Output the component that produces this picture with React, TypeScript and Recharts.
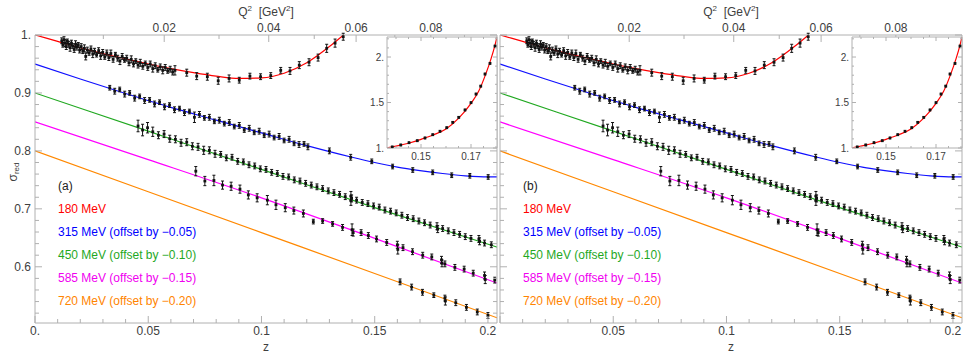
import React from 'react';
import { ComposedChart, Line, Scatter, ErrorBar, XAxis, YAxis } from 'recharts';

// ---------------- axis ticks & labels ----------------
const zTicks = [0, 0.01, 0.02, 0.03, 0.04, 0.05, 0.06, 0.07, 0.08, 0.09, 0.1, 0.11, 0.12, 0.13, 0.14, 0.15, 0.16, 0.17, 0.18, 0.19, 0.2];
const zMajor = [0, 0.05, 0.1, 0.15, 0.2];
const zLabels = ['0.', '0.05', '0.1', '0.15', '0.2'];
const zLabelsB = [null, '0.05', '0.1', '0.15', '0.2'];
const yTicks = [0.52, 0.54, 0.56, 0.58, 0.6, 0.62, 0.64, 0.66, 0.68, 0.7, 0.72, 0.74, 0.76, 0.78, 0.8, 0.82, 0.84, 0.86, 0.88, 0.9, 0.92, 0.94, 0.96, 0.98, 1.0];
const yMajor = [0.6, 0.7, 0.8, 0.9, 1.0];
const yLabels = ['0.6', '0.7', '0.8', '0.9', '1.'];
const q2Major = [0.02, 0.04, 0.06, 0.08];
const q2Labels = ['0.02', '0.04', '0.06', '0.08'];
const q2Minor = [0.01, 0.03, 0.05, 0.07, 0.09];
const insetXTicks = [0.14, 0.145, 0.15, 0.155, 0.16, 0.165, 0.17, 0.175, 0.18];
const insetXMajor = [0.15, 0.17];
const insetXLabels = ['0.15', '0.17'];
const insetYTicks = [1.0, 1.1, 1.2, 1.3, 1.4, 1.5, 1.6, 1.7, 1.8, 1.9, 2.0, 2.1, 2.2];
const insetYMajor = [1.0, 1.5, 2.0];
const insetYLabels = ['1.', '1.5', '2.'];

// Q^2 <-> z conformal mapping (t_c = 4 m_pi^2) for the top axis
const TC = 4 * 0.13957 * 0.13957;
const zFromQ2 = (q: number) => { const a = Math.sqrt(TC + q), b = Math.sqrt(TC); return (a - b) / (a + b); };
const q2FromZ = (z: number) => (4 * TC * z) / ((1 - z) * (1 - z));
const q2Ticks = [...q2Minor, ...q2Major].sort((a, b) => a - b).map(zFromQ2);

// ---------------- fitted curves [z, sigma] ----------------
const redCurve: [number, number][] = [
  [0, 1.0], [0.01, 0.989], [0.02, 0.978], [0.03, 0.968], [0.04, 0.959], [0.05, 0.95], [0.06, 0.942],
  [0.07, 0.935], [0.08, 0.929], [0.09, 0.925], [0.1, 0.926], [0.11, 0.934], [0.12, 0.952], [0.13, 0.98],
  [0.1362, 1.0], [0.14, 1.02], [0.145, 1.052], [0.15, 1.095], [0.155, 1.145], [0.16, 1.21], [0.165, 1.325],
  [0.17, 1.49], [0.173, 1.62], [0.176, 1.82], [0.178, 1.98], [0.1795, 2.12], [0.1804, 2.22],
];
const blueCurve: [number, number][] = [
  [0, 0.95], [0.02, 0.924], [0.04, 0.899], [0.06, 0.875], [0.08, 0.853], [0.1, 0.831], [0.12, 0.809],
  [0.14, 0.789], [0.15, 0.78], [0.16, 0.772], [0.17, 0.766], [0.18, 0.761], [0.19, 0.757], [0.2, 0.755], [0.204, 0.755],
];
const greenCurve: [number, number][] = [[0, 0.9], [0.05, 0.834], [0.1, 0.768], [0.15, 0.702], [0.204, 0.634]];
const magentaCurve: [number, number][] = [[0, 0.85], [0.05, 0.785], [0.1, 0.719], [0.15, 0.649], [0.204, 0.572]];
const orangeCurve: [number, number][] = [[0, 0.8], [0.05, 0.7295], [0.1, 0.659], [0.15, 0.5885], [0.204, 0.512]];

// ---------------- data points [z, sigma, error] ----------------
const redPoints: [number, number, number][] = [
  [0.0118, 0.99, 0.005], [0.0123, 0.983, 0.004], [0.0128, 0.992, 0.005], [0.0133, 0.986, 0.006], [0.0138, 0.98, 0.005],
  [0.0143, 0.989, 0.004], [0.0149, 0.984, 0.005], [0.0155, 0.978, 0.006], [0.0161, 0.986, 0.005], [0.0167, 0.981, 0.004],
  [0.0173, 0.975, 0.005], [0.0179, 0.984, 0.006], [0.0185, 0.979, 0.005], [0.0191, 0.983, 0.004], [0.0197, 0.974, 0.005],
  [0.0204, 0.98, 0.005], [0.0211, 0.972, 0.004], [0.0218, 0.977, 0.006], [0.0224, 0.963, 0.006], [0.0231, 0.974, 0.005],
  [0.0239, 0.969, 0.004], [0.0247, 0.976, 0.005], [0.0255, 0.967, 0.006], [0.0263, 0.972, 0.005], [0.0272, 0.966, 0.004],
  [0.0281, 0.973, 0.005], [0.029, 0.964, 0.006], [0.0299, 0.97, 0.005], [0.0308, 0.962, 0.004], [0.0317, 0.969, 0.005],
  [0.0326, 0.961, 0.005], [0.0335, 0.968, 0.006], [0.0345, 0.958, 0.005], [0.0355, 0.966, 0.004], [0.0365, 0.96, 0.005],
  [0.0375, 0.955, 0.006], [0.0385, 0.963, 0.005], [0.0395, 0.957, 0.004], [0.0405, 0.96, 0.005], [0.0415, 0.952, 0.005],
  [0.0425, 0.958, 0.006], [0.0435, 0.95, 0.005], [0.0445, 0.955, 0.004], [0.0455, 0.948, 0.005], [0.0465, 0.952, 0.006],
  [0.0476, 0.946, 0.005], [0.0487, 0.951, 0.004], [0.0498, 0.944, 0.005], [0.0509, 0.95, 0.005], [0.052, 0.942, 0.006],
  [0.0531, 0.947, 0.005], [0.0542, 0.94, 0.004], [0.0553, 0.945, 0.005], [0.0564, 0.939, 0.006], [0.0575, 0.944, 0.005],
  [0.0586, 0.938, 0.004], [0.0597, 0.941, 0.005], [0.0608, 0.936, 0.005], [0.0618, 0.939, 0.008],
  [0.067, 0.935, 0.006], [0.0714, 0.929, 0.006], [0.0761, 0.928, 0.006], [0.0809, 0.921, 0.006], [0.0857, 0.925, 0.006],
  [0.0902, 0.922, 0.005], [0.0949, 0.929, 0.005], [0.0996, 0.928, 0.005], [0.1041, 0.93, 0.005], [0.1085, 0.939, 0.005],
  [0.1126, 0.938, 0.006], [0.1167, 0.948, 0.006], [0.121, 0.953, 0.006], [0.125, 0.961, 0.006], [0.1288, 0.977, 0.007],
  [0.1325, 0.986, 0.007], [0.1361, 0.997, 0.006],
];
const insetPoints: [number, number, number][] = [
  [0.1385, 1.011, 0.008], [0.1419, 1.033, 0.008], [0.1452, 1.058, 0.008], [0.1485, 1.08, 0.008], [0.1516, 1.11, 0.008],
  [0.1547, 1.146, 0.008], [0.1576, 1.184, 0.008], [0.1603, 1.223, 0.008], [0.1627, 1.282, 0.008], [0.1651, 1.337, 0.008],
  [0.1676, 1.418, 0.008], [0.17, 1.498, 0.008], [0.172, 1.593, 0.008], [0.1739, 1.68, 0.008], [0.1756, 1.813, 0.008],
  [0.1776, 1.93, 0.008], [0.1796, 2.12, 0.008],
];
const bluePoints: [number, number, number][] = [
  [0.033, 0.909, 0.004], [0.0352, 0.903, 0.005], [0.0374, 0.906, 0.004], [0.0396, 0.898, 0.005], [0.0418, 0.9, 0.004],
  [0.044, 0.891, 0.005], [0.0462, 0.894, 0.004], [0.0484, 0.887, 0.005], [0.0506, 0.888, 0.004], [0.0528, 0.881, 0.005],
  [0.055, 0.884, 0.004], [0.0572, 0.876, 0.005], [0.0594, 0.879, 0.004], [0.0616, 0.871, 0.005], [0.0638, 0.873, 0.004],
  [0.066, 0.866, 0.005], [0.0682, 0.868, 0.004], [0.0704, 0.858, 0.009], [0.0726, 0.863, 0.005], [0.0748, 0.857, 0.004],
  [0.077, 0.858, 0.005], [0.0792, 0.851, 0.004], [0.0814, 0.853, 0.005], [0.0836, 0.847, 0.004], [0.0858, 0.849, 0.005],
  [0.088, 0.842, 0.004], [0.0902, 0.844, 0.005], [0.0924, 0.836, 0.004], [0.0946, 0.839, 0.005], [0.0968, 0.832, 0.004],
  [0.099, 0.834, 0.005], [0.1012, 0.827, 0.004], [0.1034, 0.829, 0.005], [0.1056, 0.823, 0.004], [0.1078, 0.825, 0.005],
  [0.11, 0.818, 0.004], [0.1122, 0.82, 0.005], [0.1144, 0.813, 0.004], [0.1166, 0.811, 0.005], [0.1188, 0.812, 0.004],
  [0.1205, 0.807, 0.005], [0.13, 0.8, 0.005], [0.1394, 0.789, 0.005], [0.1487, 0.782, 0.004], [0.1579, 0.773, 0.004],
  [0.1668, 0.767, 0.004], [0.1756, 0.763, 0.004], [0.184, 0.758, 0.004], [0.192, 0.757, 0.004], [0.2001, 0.755, 0.004],
];
const greenPoints: [number, number, number][] = [
  [0.0455, 0.843, 0.01], [0.0475, 0.836, 0.01], [0.0497, 0.84, 0.009], [0.052, 0.833, 0.008], [0.0545, 0.827, 0.006],
  [0.057, 0.829, 0.006], [0.0595, 0.821, 0.006], [0.062, 0.82, 0.006], [0.0645, 0.814, 0.006], [0.067, 0.815, 0.006],
  [0.0695, 0.808, 0.006], [0.072, 0.807, 0.006], [0.0745, 0.801, 0.007], [0.077, 0.801, 0.006], [0.0795, 0.795, 0.006],
  [0.082, 0.794, 0.005], [0.0845, 0.788, 0.005], [0.087, 0.789, 0.005], [0.0895, 0.782, 0.005], [0.092, 0.781, 0.005],
  [0.0945, 0.776, 0.005], [0.097, 0.774, 0.005], [0.0995, 0.769, 0.005], [0.102, 0.768, 0.005], [0.1045, 0.763, 0.005],
  [0.107, 0.761, 0.005], [0.1095, 0.756, 0.005], [0.112, 0.755, 0.005], [0.1145, 0.75, 0.005], [0.117, 0.748, 0.005],
  [0.1195, 0.744, 0.005], [0.122, 0.741, 0.005], [0.1245, 0.738, 0.005], [0.127, 0.735, 0.005], [0.1295, 0.731, 0.005],
  [0.132, 0.728, 0.005], [0.1345, 0.725, 0.005], [0.137, 0.721, 0.005], [0.1395, 0.722, 0.008], [0.1395, 0.714, 0.008],
  [0.1398, 0.718, 0.006], [0.142, 0.715, 0.005], [0.1445, 0.711, 0.005], [0.147, 0.709, 0.005], [0.1495, 0.705, 0.005],
  [0.152, 0.703, 0.005], [0.1545, 0.698, 0.005], [0.157, 0.696, 0.005], [0.1595, 0.693, 0.005], [0.162, 0.689, 0.005],
  [0.1645, 0.685, 0.005], [0.167, 0.683, 0.005], [0.1695, 0.679, 0.005], [0.172, 0.676, 0.005], [0.1745, 0.672, 0.005],
  [0.1775, 0.67, 0.006], [0.1778, 0.665, 0.006], [0.18, 0.666, 0.005], [0.1825, 0.662, 0.005], [0.185, 0.659, 0.005],
  [0.1875, 0.656, 0.005], [0.19, 0.652, 0.005], [0.1925, 0.649, 0.005], [0.196, 0.648, 0.006], [0.1963, 0.644, 0.006],
  [0.1985, 0.641, 0.005], [0.2015, 0.638, 0.005],
];
const magentaPoints: [number, number, number][] = [
  [0.071, 0.765, 0.008], [0.075, 0.748, 0.008], [0.079, 0.749, 0.009], [0.0828, 0.741, 0.007], [0.0866, 0.739, 0.007],
  [0.0905, 0.734, 0.007], [0.0942, 0.724, 0.007], [0.0981, 0.719, 0.007], [0.1026, 0.715, 0.008], [0.1064, 0.707, 0.008],
  [0.1105, 0.702, 0.007], [0.1143, 0.697, 0.006], [0.1185, 0.692, 0.006], [0.1229, 0.678, 0.004], [0.127, 0.679, 0.004],
  [0.1314, 0.674, 0.004], [0.1358, 0.668, 0.005], [0.14, 0.664, 0.01], [0.1405, 0.659, 0.006], [0.144, 0.659, 0.005],
  [0.1472, 0.654, 0.005], [0.1508, 0.648, 0.005], [0.1553, 0.642, 0.005], [0.16, 0.638, 0.006], [0.1602, 0.63, 0.008],
  [0.1625, 0.633, 0.005], [0.1667, 0.626, 0.005], [0.1712, 0.62, 0.005], [0.1752, 0.617, 0.005], [0.1795, 0.612, 0.006],
  [0.1797, 0.606, 0.006], [0.181, 0.605, 0.005], [0.1854, 0.599, 0.005], [0.1895, 0.596, 0.005], [0.1935, 0.589, 0.005],
  [0.1985, 0.585, 0.006], [0.1988, 0.578, 0.007], [0.203, 0.577, 0.005],
];
const orangePoints: [number, number, number][] = [
  [0.1612, 0.574, 0.005], [0.1663, 0.565, 0.005], [0.1711, 0.556, 0.005], [0.1761, 0.551, 0.004], [0.181, 0.546, 0.005],
  [0.1812, 0.541, 0.007], [0.1858, 0.538, 0.005], [0.1905, 0.53, 0.005], [0.1953, 0.522, 0.005], [0.2, 0.516, 0.005],
];

const legendItems = [
  { text: '180 MeV', color: '#ff0000' },
  { text: '315 MeV (offset by \u22120.05)', color: '#0000ff' },
  { text: '450 MeV (offset by \u22120.10)', color: '#1fa81f' },
  { text: '585 MeV (offset by \u22120.15)', color: '#f000f0' },
  { text: '720 MeV (offset by \u22120.20)', color: '#ff8400' },
];

// ---------------- styling ----------------
const FONT = '"Liberation Sans", Arial, Helvetica, sans-serif';
const FRAME = '#b0b0b0';
const TICKTXT = '#404040';
const C = { red: '#ff0000', blue: '#1010ff', green: '#20a820', magenta: '#ff00ff', orange: '#ff8800' };

const toLine = (a: [number, number][]) => a.map(([z, s]) => ({ z, s }));
const toPts = (a: [number, number, number][]) => a.map(([z, s, e]) => ({ z, s, e }));
const MAIN_Z_MAX_RED = 0.1362;
const redMain = redCurve.filter(([z]) => z <= MAIN_Z_MAX_RED);
const redInset = redCurve.filter(([z]) => z >= MAIN_Z_MAX_RED);

type Side = 'left' | 'right' | 'top' | 'bottom';
function makeTick(side: Side, major: number[], labels: (string | null)[] | null, majorLen: number, minorLen: number, fontSize: number, gap: number, valueMap?: (v: number) => number) {
  return (props: any) => {
    const { x, y, payload } = props;
    const raw = payload.value as number;
    const v = valueMap ? valueMap(raw) : raw;
    const idx = major.findIndex((m) => Math.abs(m - v) < 1e-6);
    const len = idx >= 0 ? majorLen : minorLen;
    const label = idx >= 0 && labels ? labels[idx] : null;
    let line: any = null;
    let text: any = null;
    const tp = { fontFamily: FONT, fontSize, fill: TICKTXT };
    if (side === 'left') {
      line = <line x1={x} y1={y} x2={x + len} y2={y} stroke={FRAME} strokeWidth={1} />;
      if (label) text = <text x={x - gap} y={y} textAnchor="end" dominantBaseline="central" {...tp}>{label}</text>;
    } else if (side === 'right') {
      line = <line x1={x} y1={y} x2={x - len} y2={y} stroke={FRAME} strokeWidth={1} />;
    } else if (side === 'bottom') {
      line = <line x1={x} y1={y} x2={x} y2={y - len} stroke={FRAME} strokeWidth={1} />;
      if (label) text = <text x={x} y={y + gap} textAnchor="middle" dominantBaseline="central" {...tp}>{label}</text>;
    } else {
      line = <line x1={x} y1={y} x2={x} y2={y + len} stroke={FRAME} strokeWidth={1} />;
      if (label) text = <text x={x} y={y - gap} textAnchor="middle" dominantBaseline="central" {...tp}>{label}</text>;
    }
    return <g>{line}{text}</g>;
  };
}

const Square = (p: any) => <rect x={p.cx - 1.4} y={p.cy - 1.4} width={2.8} height={2.8} fill="#111" />;

const axisCommon = { tickSize: 0, tickMargin: 0, tickLine: false, interval: 0 as const, axisLine: { stroke: FRAME, strokeWidth: 1 } };

function series(curve: [number, number][], pts: [number, number, number][], color: string, key: string) {
  return [
    <Line key={key + 'l'} xAxisId="b" yAxisId="l" data={toLine(curve)} dataKey="s" type="monotone" stroke={color} strokeWidth={1.2} dot={false} activeDot={false} isAnimationActive={false} />,
    <Scatter key={key + 's'} xAxisId="b" yAxisId="l" data={toPts(pts)} dataKey="s" shape={Square} isAnimationActive={false}>
      <ErrorBar dataKey="e" direction="y" width={1.5} stroke="#111" strokeWidth={1} isAnimationActive={false} />
    </Scatter>,
  ];
}

function Panel({ left, first }: { left: number; first: boolean }) {
  const X0 = 0, X1 = 0.204;
  return (
    <div style={{ position: 'absolute', left, top: 0 }}>
      <ComposedChart width={500} height={353} margin={{ top: 34, right: 2, bottom: 29, left: 34 }}>
        <XAxis xAxisId="b" type="number" dataKey="z" domain={[X0, X1]} allowDataOverflow ticks={zTicks} height={1} {...axisCommon}
          tick={makeTick('bottom', zMajor, first ? zLabels : zLabelsB, 7, 4, 12, 8)} />
        <XAxis xAxisId="t" orientation="top" type="number" dataKey="z" domain={[X0, X1]} allowDataOverflow ticks={q2Ticks} height={1} {...axisCommon}
          tick={makeTick('top', q2Major, q2Labels, 7, 4, 12, 7, q2FromZ)} />
        <YAxis yAxisId="l" type="number" dataKey="s" domain={[0.503, 1.0]} allowDataOverflow ticks={yTicks} width={1} {...axisCommon}
          tick={makeTick('left', yMajor, first ? yLabels : null, 7, 4, 12, 4)} />
        <YAxis yAxisId="r" orientation="right" type="number" dataKey="s" domain={[0.503, 1.0]} allowDataOverflow ticks={yTicks} width={1} {...axisCommon}
          tick={makeTick('right', yMajor, null, 7, 4, 12, 4)} />
        {series(redMain, redPoints, C.red, 'r')}
        {series(blueCurve, bluePoints, C.blue, 'b')}
        {series(greenCurve, greenPoints, C.green, 'g')}
        {series(magentaCurve, magentaPoints, C.magenta, 'm')}
        {series(orangeCurve, orangePoints, C.orange, 'o')}
      </ComposedChart>
    </div>
  );
}

function Inset({ left }: { left: number }) {
  return (
    <>
      <div style={{ position: 'absolute', left: left + 35, top: 37, width: 110, height: 111, background: '#fff' }} />
      <div style={{ position: 'absolute', left, top: 10 }}>
        <ComposedChart width={148} height={163} margin={{ top: 26, right: 2, bottom: 24, left: 34 }}>
          <XAxis xAxisId="b" type="number" dataKey="z" domain={[0.1364, 0.1804]} allowDataOverflow ticks={insetXTicks} height={1} {...axisCommon}
            tick={makeTick('bottom', insetXMajor, insetXLabels, 4, 2, 10, 8)} />
          <XAxis xAxisId="t" orientation="top" type="number" dataKey="z" domain={[0.1364, 0.1804]} allowDataOverflow ticks={insetXTicks} height={1} {...axisCommon}
            tick={makeTick('top', insetXMajor, null, 4, 2, 10, 6)} />
          <YAxis yAxisId="l" type="number" dataKey="s" domain={[1.0, 2.22]} allowDataOverflow ticks={insetYTicks} width={1} {...axisCommon}
            tick={makeTick('left', insetYMajor, insetYLabels, 4, 2, 10, 3)} />
          <YAxis yAxisId="r" orientation="right" type="number" dataKey="s" domain={[1.0, 2.22]} allowDataOverflow ticks={insetYTicks} width={1} {...axisCommon}
            tick={makeTick('right', insetYMajor, null, 4, 2, 10, 3)} />
          <Line xAxisId="b" yAxisId="l" data={toLine(redInset)} dataKey="s" type="monotone" stroke={C.red} strokeWidth={1.2} dot={false} activeDot={false} isAnimationActive={false} />
          <Scatter xAxisId="b" yAxisId="l" data={toPts(insetPoints)} dataKey="s" shape={Square} isAnimationActive={false}>
            <ErrorBar dataKey="e" direction="y" width={1} stroke="#111" strokeWidth={1} isAnimationActive={false} />
          </Scatter>
        </ComposedChart>
      </div>
    </>
  );
}

function Overlay() {
  const tf = { fontFamily: FONT, fontSize: 12 };
  const centers = [266, 731];
  const legendX = [58, 523];
  const rowY = [209, 232, 255, 278, 301];
  return (
    <svg width={969} height={353} style={{ position: 'absolute', left: 0, top: 0, pointerEvents: 'none' }}>
      {centers.map((cx, i) => (
        <g key={'c' + i}>
          <text x={cx} y={16} textAnchor="middle" fill={TICKTXT} {...tf}>
            Q<tspan dy={-5} fontSize={8}>2</tspan><tspan dy={5}>{'\u00a0 [GeV'}</tspan><tspan dy={-5} fontSize={8}>2</tspan><tspan dy={5}>]</tspan>
          </text>
          <text x={cx} y={347} textAnchor="middle" dominantBaseline="central" fill={TICKTXT} {...tf}>z</text>
        </g>
      ))}
      <text transform="rotate(-90 13 172)" x={13} y={172} textAnchor="middle" dominantBaseline="central" fill={TICKTXT} {...tf}>
        σ<tspan dy={3} fontSize={8}>red</tspan>
      </text>
      {legendX.map((lx, i) => (
        <g key={'l' + i}>
          <text x={lx} y={186} dominantBaseline="central" fill="#222" {...tf}>{i === 0 ? '(a)' : '(b)'}</text>
          {legendItems.map((it, j) => (
            <text key={j} x={lx} y={rowY[j]} dominantBaseline="central" fill={it.color} {...tf}>{it.text}</text>
          ))}
        </g>
      ))}
    </svg>
  );
}

export default function App() {
  return (
    <div style={{ position: 'absolute', left: 0, top: 0, width: 969, height: 353, background: '#fff', overflow: 'hidden' }}>
      <Panel left={0} first={true} />
      <Panel left={465} first={false} />
      <Inset left={352} />
      <Inset left={817} />
      <Overlay />
    </div>
  );
}
